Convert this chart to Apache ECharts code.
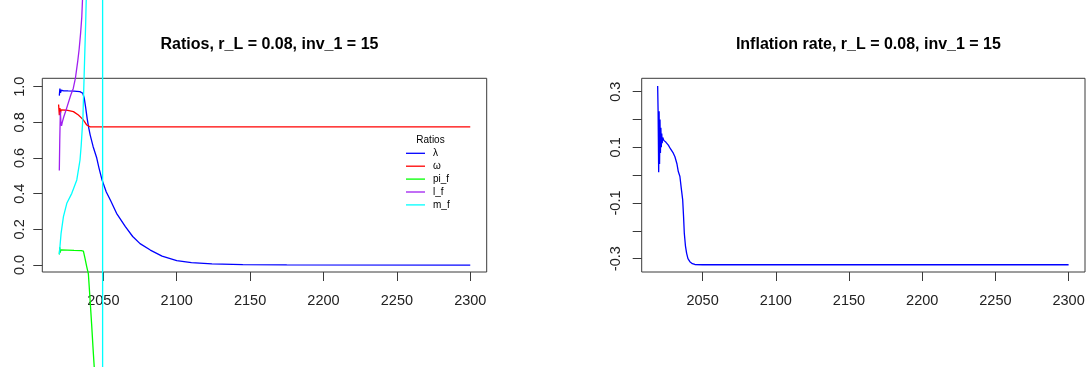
<!DOCTYPE html>
<html>
<head>
<meta charset="utf-8">
<script src="https://cdn.jsdelivr.net/npm/echarts@6/dist/echarts.min.js"></script>
<style>
  html, body { margin: 0; padding: 0; background: #fff; }
  #chart { width: 1091px; height: 367px; }
</style>
</head>
<body>
<div id="chart"></div>
<script>
// Ratio paths, [year, value]
const lambdaPts = [
  [2020.0, 0.95], [2020.4, 0.99], [2020.8, 0.965], [2021.3, 0.98], [2023, 0.977],
  [2026, 0.976], [2030, 0.975], [2034, 0.972], [2036, 0.963], [2037, 0.935],
  [2038, 0.88], [2039, 0.82], [2040, 0.77], [2041, 0.73], [2043, 0.665],
  [2045.5, 0.60], [2047, 0.545], [2049, 0.48], [2052, 0.41], [2055, 0.36],
  [2059, 0.29], [2065, 0.215], [2070, 0.16], [2075, 0.12], [2082, 0.084],
  [2090, 0.05], [2100, 0.025], [2110, 0.013], [2124, 0.006], [2145, 0.002],
  [2175, 0.0005], [2300, 0.0]
];
const omegaPts = [
  [2019.5, 0.90], [2020, 0.84], [2020.4, 0.88], [2020.8, 0.85], [2021.2, 0.87],
  [2022, 0.865], [2025, 0.868], [2029.6, 0.86], [2033, 0.841], [2035, 0.825],
  [2036.4, 0.813], [2037.5, 0.80], [2038.7, 0.785], [2040, 0.777], [2041, 0.775],
  [2300, 0.775]
];
const piFPts = [
  [2020, 0.06], [2020.3, 0.10], [2020.6, 0.07], [2021, 0.085], [2022, 0.082],
  [2030, 0.082], [2035, 0.081], [2036.4, 0.078], [2037.5, 0.037], [2038.7, -0.01],
  [2039.8, -0.05], [2041, -0.20], [2042, -0.33], [2043, -0.47], [2044, -0.60],
  [2046, -0.90], [2050, -1.6], [2100, -5], [2300, -10]
];
const lFPts = [
  [2020, 0.53], [2020.3, 0.70], [2020.7, 0.86], [2021.1, 0.80], [2021.5, 0.78],
  [2022, 0.80], [2023, 0.83], [2025, 0.88], [2027.8, 0.953], [2029.5, 0.99],
  [2031, 1.05], [2032.5, 1.14], [2033.5, 1.21], [2034.5, 1.30], [2035.3, 1.39],
  [2035.8, 1.49], [2036.5, 1.65], [2040, 2.3], [2050, 4.5], [2100, 12], [2300, 30]
];
const mFPts = [
  [2020, 0.06], [2020.5, 0.11], [2021.2, 0.178], [2022.8, 0.271], [2025.1, 0.346],
  [2028.5, 0.402], [2031.9, 0.477], [2034.1, 0.589], [2034.9, 0.67], [2036.1, 0.83],
  [2036.9, 1.06], [2038.0, 1.37], [2038.5, 1.55], [2040, 2.2], [2045, 8],
  [2049, 600], [2050, -600], [2060, -30], [2300, -3]
];
// Inflation rate, [year, value]
const inflationPts = [
  [2019.3, 0.32], [2019.6, 0.23], [2020.0, 0.01], [2020.3, 0.23], [2020.6, 0.04],
  [2020.9, 0.20], [2021.2, 0.08], [2021.5, 0.17], [2021.8, 0.10], [2022.1, 0.15],
  [2022.4, 0.115], [2022.8, 0.135], [2023.5, 0.125], [2025, 0.118], [2026.6, 0.108],
  [2028, 0.095], [2030, 0.079], [2031.1, 0.066], [2032.5, 0.04], [2033.4, 0.013],
  [2034.5, -0.005], [2035.5, -0.05], [2036.4, -0.089], [2037, -0.15], [2037.5, -0.209],
  [2038.3, -0.255], [2039.1, -0.281], [2040, -0.300], [2041.3, -0.311], [2043, -0.318],
  [2044.7, -0.321], [2050, -0.322], [2300, -0.322]
];

const ratioNames = ['λ', 'ω', 'pi_f', 'l_f', 'm_f'];
const ratioColors = ['#0000FF', '#FF0000', '#00FF00', '#A020F0', '#00FFFF'];
const ratioData = [lambdaPts, omegaPts, piFPts, lFPts, mFPts];

const yearTicks = [2050, 2100, 2150, 2200, 2250, 2300];
const ratioTicks = [0, 0.2, 0.4, 0.6, 0.8, 1.0];
const inflationTicks = [-0.3, -0.2, -0.1, 0, 0.1, 0.2, 0.3];
const inflationLabels = [-0.3, -0.1, 0.1, 0.3];

const FONT = '"Liberation Sans", Arial, sans-serif';
const INK = '#222';
const FRAME = '#3a3a3a';

function xAxisCfg(gridIndex) {
  return {
    type: 'value', gridIndex, min: 2008.4, max: 2311.2, position: 'bottom',
    splitLine: { show: false },
    axisLine: { show: false, onZero: false },
    axisTick: { show: true, customValues: yearTicks, length: 9, lineStyle: { color: FRAME, width: 1 } },
    axisLabel: {
      customValues: yearTicks, fontSize: 14.5, color: INK, fontFamily: FONT, margin: 21,
      formatter: v => String(Math.round(v))
    }
  };
}

function yAxisCfg(gridIndex, min, max, ticks, labels, margin) {
  return {
    type: 'value', gridIndex, min, max, position: 'left',
    splitLine: { show: false },
    axisLine: { show: false, onZero: false },
    axisTick: { show: true, customValues: ticks, length: 9, lineStyle: { color: FRAME, width: 1 } },
    axisLabel: {
      customValues: labels, rotate: 90, fontSize: 14.5, color: INK, fontFamily: FONT, margin,
      formatter: v => v.toFixed(1)
    }
  };
}

const chart = echarts.init(document.getElementById('chart'), null, { renderer: 'canvas' });

const series = ratioData.map((pts, i) => ({
  name: ratioNames[i], type: 'line', xAxisIndex: 0, yAxisIndex: 0,
  data: pts, showSymbol: false, symbol: 'none', clip: false,
  lineStyle: { color: ratioColors[i], width: 1.3 }, itemStyle: { color: ratioColors[i] },
  emphasis: { disabled: true }, z: 2 + i
}));
series.push({
  name: 'inflation', type: 'line', xAxisIndex: 1, yAxisIndex: 1,
  data: inflationPts, showSymbol: false, symbol: 'none', clip: false,
  lineStyle: { color: '#0000FF', width: 1.3 }, emphasis: { disabled: true }
});

chart.setOption({
  animation: false,
  backgroundColor: '#ffffff',
  textStyle: { fontFamily: FONT },
  title: [
    { text: 'Ratios, r_L = 0.08, inv_1 = 15', left: 264.5, top: 32, textAlign: 'center',
      textStyle: { fontSize: 16, fontWeight: 'bold', color: '#000', fontFamily: FONT } },
    { text: 'Inflation rate, r_L = 0.08, inv_1 = 15', left: 863.4, top: 32, textAlign: 'center',
      textStyle: { fontSize: 16, fontWeight: 'bold', color: '#000', fontFamily: FONT } },
    { text: 'Ratios', left: 425.5, top: 130, textAlign: 'center',
      textStyle: { fontSize: 10, fontWeight: 'normal', color: '#000', fontFamily: FONT } }
  ],
  legend: {
    orient: 'vertical', left: 406, top: 148.3, padding: 0,
    itemWidth: 19, itemHeight: 10, itemGap: 2.9,
    icon: 'path://M0,0 H19 V1.3 H0 Z',
    selectedMode: false,
    textStyle: { fontSize: 10, color: '#000', fontFamily: FONT, padding: [0, 0, 0, 3] },
    data: ratioNames
  },
  grid: [
    { left: 42.3, top: 78.3, width: 444.4, height: 193.7, show: true, borderColor: FRAME, borderWidth: 1, backgroundColor: 'transparent' },
    { left: 641.7, top: 78.3, width: 443.3, height: 193.7, show: true, borderColor: FRAME, borderWidth: 1, backgroundColor: 'transparent' }
  ],
  xAxis: [xAxisCfg(0), xAxisCfg(1)],
  yAxis: [
    yAxisCfg(0, -0.039, 1.047, ratioTicks, ratioTicks, 15),
    yAxisCfg(1, -0.348, 0.348, inflationTicks, inflationLabels, 18)
  ],
  series
});
</script>
</body>
</html>
